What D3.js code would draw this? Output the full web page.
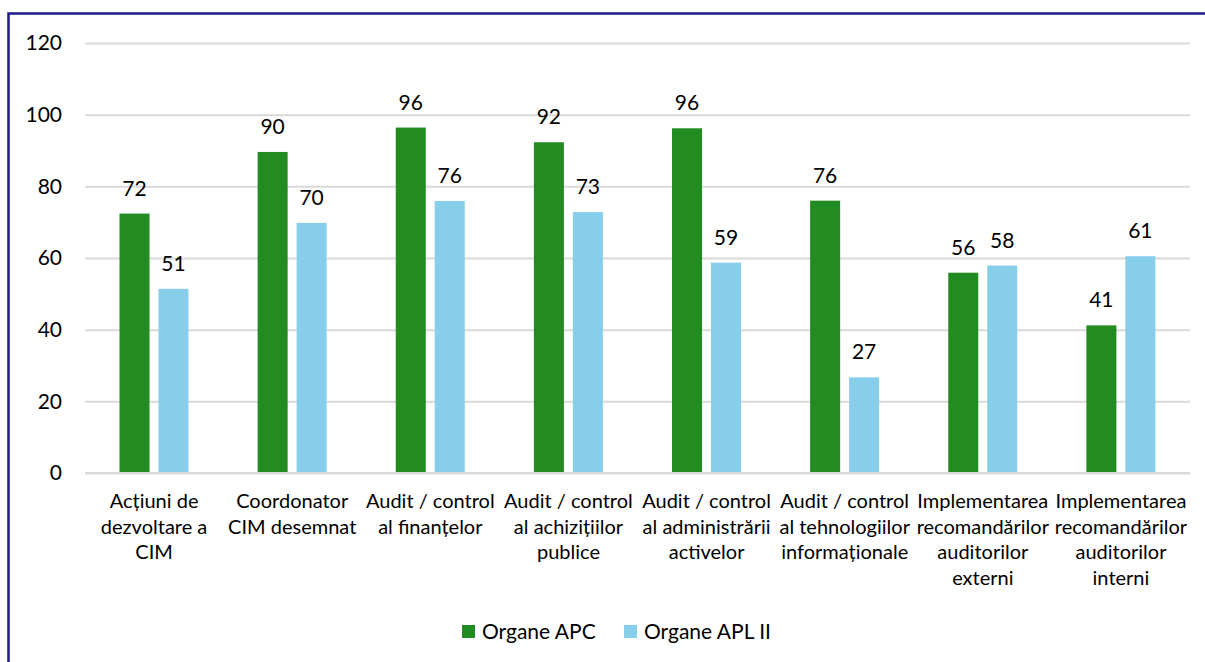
<!DOCTYPE html>
<html>
<head>
<meta charset="utf-8">
<script src="https://cdn.jsdelivr.net/npm/d3@7"></script>
<style>
  body { margin: 0; background: #fff; }
  svg text { font-family: Lato, "Open Sans", sans-serif; fill: #000; }
</style>
</head>
<body>
<div id="chart"></div>
<script>
(function(){

  // data
  var categories = [
    ["Acțiuni de", "dezvoltare a", "CIM"],
    ["Coordonator", "CIM desemnat"],
    ["Audit / control", "al finanțelor"],
    ["Audit / control", "al achizițiilor", "publice"],
    ["Audit / control", "al administrării", "activelor"],
    ["Audit / control", "al tehnologiilor", "informaționale"],
    ["Implementarea", "recomandărilor", "auditorilor", "externi"],
    ["Implementarea", "recomandărilor", "auditorilor", "interni"]
  ];
  var seriesNames = ["Organe APC", "Organe APL II"];
  var apc = [72.4, 89.6, 96.4, 92.3, 96.2, 76.0, 55.9, 41.2];
  var apl = [51.4, 69.8, 75.9, 72.8, 58.7, 26.7, 57.9, 60.5];
  var yTicks = [0, 20, 40, 60, 80, 100, 120];
  var colors = ["#228b22", "#87ceeb"];

  var width = 1205, height = 662;
  var left = 85, right = 1190, top = 43, bottom = 473;

  var svg = d3.select("#chart").append("svg")
    .attr("width", width)
    .attr("height", height);

  // outer frame (only top and left edges show in the picture)
  svg.append("path")
    .attr("d", "M8.5," + height + "V13.5H" + width)
    .attr("fill", "none")
    .attr("stroke", "#1c1c8a")
    .attr("stroke-width", 2.5);

  var idx = d3.range(categories.length);

  var x0 = d3.scaleBand()
    .domain(idx)
    .range([left, right])
    .padding(0);

  var x1 = d3.scaleBand()
    .domain(seriesNames)
    .range([34.5, 103.5])
    .paddingInner(0.23);

  var y = d3.scaleLinear()
    .domain([0, 120])
    .range([bottom, top]);

  // grid + y labels
  var yAxis = d3.axisLeft(y)
    .tickValues(yTicks)
    .tickSize(-(right - left))
    .tickPadding(23);

  var gy = svg.append("g")
    .attr("transform", "translate(" + left + ",0)")
    .call(yAxis);
  gy.select(".domain").remove();
  gy.selectAll(".tick line")
    .attr("stroke", "#d9d9d9")
    .attr("stroke-width", 2);
  gy.selectAll(".tick text")
    .attr("font-size", 21)
    .attr("font-family", "Lato, sans-serif")
    .attr("fill", "#000");

  var table = idx.map(function(i){
    return [ {s: seriesNames[0], v: apc[i], c: colors[0]},
             {s: seriesNames[1], v: apl[i], c: colors[1]} ];
  });

  var groups = svg.append("g").selectAll("g")
    .data(table)
    .enter()
    .append("g")
    .attr("transform", function(d, i){ return "translate(" + x0(i) + ",0)"; });

  groups.selectAll("rect")
    .data(function(d){ return d; })
    .enter()
    .append("rect")
    .attr("x", function(d){ return x1(d.s); })
    .attr("y", function(d){ return y(d.v); })
    .attr("width", x1.bandwidth())
    .attr("height", function(d){ return bottom - y(d.v); })
    .attr("fill", function(d){ return d.c; });

  groups.selectAll("text.val")
    .data(function(d){ return d; })
    .enter()
    .append("text")
    .attr("class", "val")
    .attr("x", function(d){ return x1(d.s) + x1.bandwidth() / 2; })
    .attr("y", function(d){ return y(d.v) - 18; })
    .attr("text-anchor", "middle")
    .attr("font-size", 21)
    .text(function(d){ return Math.round(d.v); });

  // baseline on top of bars
  svg.append("line")
    .attr("x1", left).attr("x2", right)
    .attr("y1", bottom).attr("y2", bottom)
    .attr("stroke", "#d9d9d9")
    .attr("stroke-width", 2);

  // category labels
  var cat = svg.append("g").selectAll("text")
    .data(categories)
    .enter()
    .append("text")
    .attr("text-anchor", "middle")
    .attr("font-size", 20)
    .attr("transform", function(d, i){
      return "translate(" + (x0(i) + x0.bandwidth() / 2) + ",508)";
    });
  cat.selectAll("tspan")
    .data(function(d){ return d; })
    .enter()
    .append("tspan")
    .attr("x", 0)
    .attr("dy", function(d, i){ return i === 0 ? 0 : 25.5; })
    .text(function(d){ return d; });

  // legend
  var legendX = [462, 624];
  var leg = svg.append("g").selectAll("g")
    .data(seriesNames)
    .enter()
    .append("g")
    .attr("transform", function(d, i){ return "translate(" + legendX[i] + ",625)"; });
  leg.append("rect")
    .attr("width", 13)
    .attr("height", 13)
    .attr("fill", function(d, i){ return colors[i]; });
  leg.append("text")
    .attr("x", 20)
    .attr("y", 14)
    .attr("font-size", 21)
    .text(function(d){ return d; });

})();
</script>
</body>
</html>
